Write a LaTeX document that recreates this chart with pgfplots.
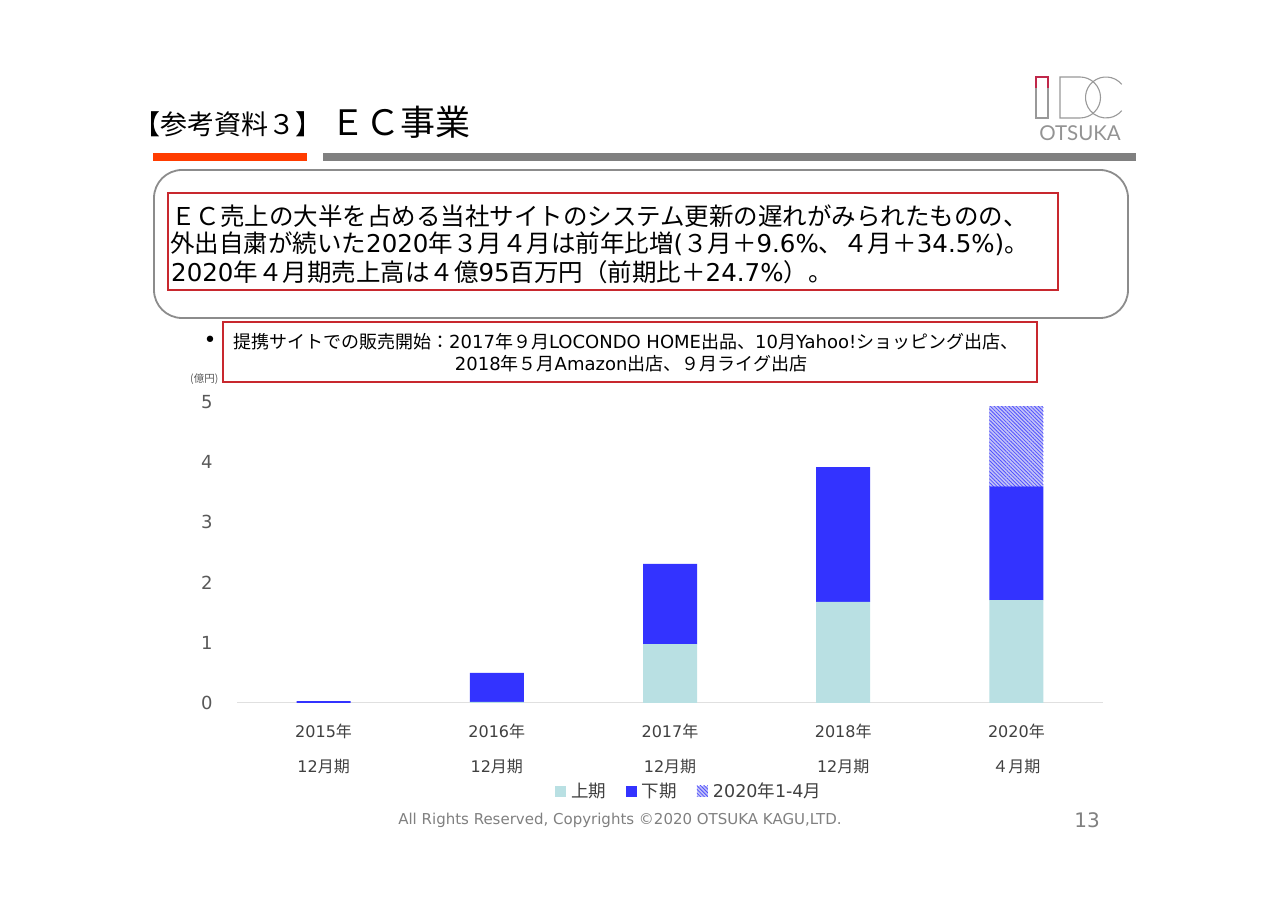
\documentclass[border=0pt]{standalone}
\usepackage{fontspec}
\setmainfont{Noto Sans CJK JP}
\newfontfamily\dejavu{DejaVu Sans}
\newfontfamily\lato{Lato}
\newcommand\lt[1]{{\dejavu #1}}
\usepackage{pgfplots}
\pgfplotsset{compat=1.18}
\usetikzlibrary{patterns.meta}

\definecolor{kamiki}{HTML}{B9E0E3}
\definecolor{shimoki}{HTML}{3333FF}
\definecolor{hatchbg}{HTML}{C4C4F6}
\definecolor{boxred}{HTML}{C8282E}
\definecolor{boxgray}{HTML}{8C8C8C}
\definecolor{accent}{HTML}{FF3C00}
\definecolor{rulegray}{HTML}{808080}
\definecolor{chartgray}{HTML}{404040}
\definecolor{tickgray}{HTML}{595959}
\definecolor{logored}{HTML}{C0284A}

\begin{document}
\begin{tikzpicture}[x=1pt,y=1pt]
\path[use as bounding box, fill=white] (0,0) rectangle (1280,905);

% heading
\node[anchor=west, inner sep=0, font=\fontsize{27}{30}\selectfont] at (133,781) {【参考資料３】};
\node[anchor=west, inner sep=0, font=\fontsize{35}{40}\selectfont] at (330,783) {ＥＣ事業};
\fill[accent] (153,752) rectangle (307,744);
\fill[rulegray] (323,752) rectangle (1136,744);

% logo
\draw[gray!80, line width=1.1pt] (1036,817) -- (1036,787) -- (1048,787) -- (1048,817);
\draw[logored, line width=1.1pt] (1036,817) -- (1036,828) -- (1048,828) -- (1048,817);
\draw[gray!80, line width=1.1pt] (1060,828) -- (1080,828) arc[start angle=90, end angle=-90, radius=20.5] -- (1060,787) -- cycle;
\draw[gray!80, line width=1.1pt] (1106,807.5) ++(40:20.5) arc[start angle=40, end angle=320, radius=20.5];
\node[anchor=center, inner sep=0, font=\lato\fontsize{20.5}{22}\selectfont, text=gray!85] at (1080,772) {OTSUKA};

% summary box
\draw[boxgray, line width=1.8pt, rounded corners=28pt] (154,735) rectangle (1128,587);
\draw[boxred, line width=1.8pt] (168,712) rectangle (1058,615);
\begin{scope}[every node/.style={anchor=west, inner sep=0, font=\fontsize{24.5}{28}\selectfont}]
\node at (171,689) {ＥＣ売上の大半を占める当社サイトのシステム更新の遅れがみられたものの、};
\node at (170,661) {外出自粛が続いた\lt{2020}年３月４月は前年比増\lt{(}３月＋\lt{9.6\%}、４月＋\lt{34.5\%)}。};
\node at (171,633) {\lt{2020}年４月期売上高は４億\lt{95}百万円（前期比＋\lt{24.7\%}）。};
\end{scope}

% partner sites note
\node[inner sep=0, font=\dejavu\fontsize{22}{24}\selectfont] at (210,563) {•};
\node[anchor=west, inner sep=0, text=tickgray, font=\fontsize{10.5}{12}\selectfont] at (190,526) {(億円)};
\draw[boxred, line width=1.8pt, fill=white] (223,583) rectangle (1037,523);
\node[anchor=west, inner sep=0, font=\fontsize{18}{20}\selectfont] at (233,563) {提携サイトでの販売開始：\lt{2017}年９月\lt{LOCONDO HOME}出品、\lt{10}月\lt{Yahoo!}ショッピング出店、};
\node[anchor=center, inner sep=0, font=\fontsize{18}{20}\selectfont] at (631,541) {\lt{2018}年５月\lt{Amazon}出店、９月ライグ出店};

\begin{axis}[
  at={(237pt,202pt)}, anchor=south west,
  scale only axis, width=866pt, height=301pt,
  xmin=-0.5, xmax=4.5, ymin=0, ymax=5,
  clip=false,
  ybar stacked, bar width=54pt,
  axis x line=bottom, axis y line=left,
  x axis line style={draw=black!12, line width=1pt, -},
  y axis line style={draw=none},
  major tick length=0pt,
  xtick={0,1,2,3,4},
  xticklabels={{\lt{2015}年\\\lt{12}月期},{\lt{2016}年\\\lt{12}月期},{\lt{2017}年\\\lt{12}月期},{\lt{2018}年\\\lt{12}月期},{\lt{2020}年\\４月期}},
  xticklabel style={align=center, text=chartgray, font=\fontsize{16}{35}\selectfont, yshift=-17pt},
  ytick={0,1,2,3,4,5},
  yticklabel style={text=tickgray, font=\dejavu\fontsize{18}{20}\selectfont, xshift=-21pt},
  /pgf/number format/assume math mode=true,
  legend columns=3,
  legend style={at={(0.522,-0.293)}, anchor=center, draw=none, fill=none,
    font=\fontsize{17.5}{20}\selectfont, text=chartgray,
    /tikz/every even column/.append style={column sep=18pt},
    /tikz/every odd column/.append style={column sep=3pt}},
  legend cell align=left,
  sq/.style={legend image code/.code={\fill[##1] (0pt,-5.5pt) rectangle (11pt,5.5pt);}},
]
\addplot[fill=kamiki, draw=none, sq] coordinates {(0,0) (1,0.02) (2,0.98) (3,1.68) (4,1.71)};
\addplot[fill=shimoki, draw=none, sq] coordinates {(0,0.03) (1,0.48) (2,1.33) (3,2.24) (4,1.89)};
\addplot[fill=hatchbg, draw=none, sq,
  postaction={pattern={Lines[angle=-45, distance=2.6pt, line width=0.8pt]}, pattern color=shimoki!85}]
  coordinates {(0,0) (1,0) (2,0) (3,0) (4,1.33)};
\legend{上期,下期,\lt{2020}年\lt{1-4}月}
\end{axis}

% footer
\node[inner sep=0, text=rulegray, font=\dejavu\fontsize{15}{17}\selectfont] at (620,85) {All Rights Reserved, Copyrights ©2020 OTSUKA KAGU,LTD.};
\node[inner sep=0, text=rulegray, font=\dejavu\fontsize{20}{22}\selectfont] at (1087,85) {13};
\end{tikzpicture}
\end{document}
